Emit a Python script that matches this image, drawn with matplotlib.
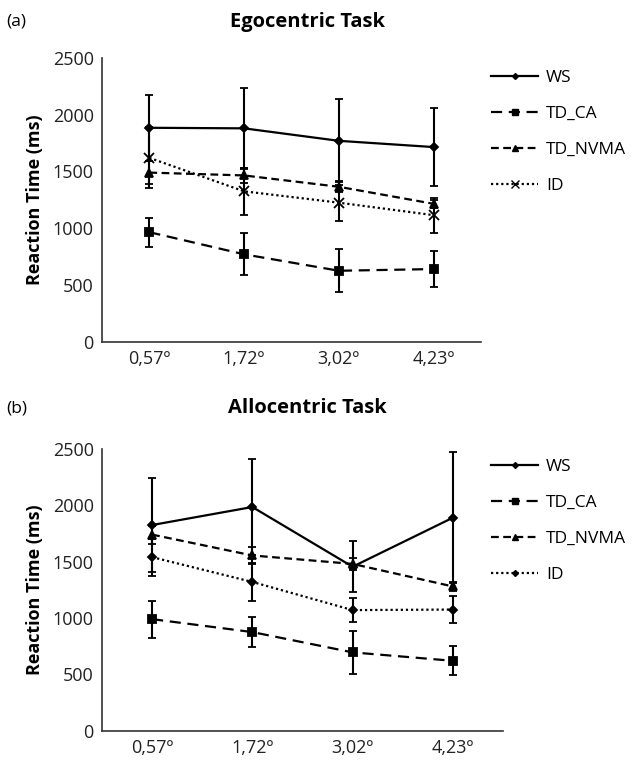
import matplotlib
matplotlib.use("Agg")
import matplotlib.pyplot as plt
from matplotlib.lines import Line2D

plt.rcParams['font.family'] = ['Open Sans', 'DejaVu Sans']

categories = ["0,57º", "1,72º", "3,02º", "4,23º"]
series = ["WS", "TD_CA", "TD_NVMA", "ID"]

# Panel (a) Egocentric
ego_ws = [1885, 1880, 1770, 1715]
ego_ws_err = [290, 355, 365, 340]
ego_ca = [965, 770, 625, 640]
ego_ca_err = [128, 185, 190, 155]
ego_nvma = [1490, 1465, 1365, 1215]
ego_nvma_err = [100, 65, 50, 35]
ego_id = [1620, 1325, 1225, 1115]
ego_id_err = [270, 205, 160, 155]

# Panel (b) Allocentric
allo_ws = [1825, 1985, 1455, 1890]
allo_ws_err = [420, 430, 225, 580]
allo_ca = [990, 875, 695, 620]
allo_ca_err = [165, 130, 190, 130]
allo_nvma = [1740, 1555, 1480, 1280]
allo_nvma_err = [80, 75, 50, 40]
allo_id = [1540, 1320, 1070, 1075]
allo_id_err = [165, 165, 105, 120]

styles = {
    "WS": dict(linestyle='-', marker='D', markersize=4),
    "TD_CA": dict(linestyle=(0, (5, 3)), marker='s', markersize=6),
    "TD_NVMA": dict(linestyle=(0, (3.5, 2)), marker='^', markersize=6),
    "ID": dict(linestyle=(0, (1, 1.3)), marker='x', markersize=7),
}

fig = plt.figure(figsize=(6.33, 7.62), dpi=100)

def panel(rect, data, id_marker, title, tag, tag_y, legend_y):
    ax = fig.add_axes(rect)
    x = list(range(len(categories)))
    handles = []
    for name, (vals, errs) in zip(series, data):
        st = dict(styles[name])
        if name == "ID":
            st['marker'] = id_marker
            if id_marker == 'D':
                st['markersize'] = 4
        ax.errorbar(x, vals, yerr=errs, color='black', linewidth=1.6,
                    elinewidth=1.5, capsize=3, capthick=1.5,
                    markeredgewidth=1.3, label=name, **st)
        hs = dict(st)
        hs['markersize'] = st['markersize'] * 0.75
        handles.append(Line2D([], [], color='black', linewidth=1.6,
                              markeredgewidth=1.0, **hs))
    ax.set_xlim(-0.5, len(categories) - 0.5)
    ax.set_ylim(0, 2500)
    ax.set_yticks([0, 500, 1000, 1500, 2000, 2500])
    ax.set_xticks(x)
    ax.set_xticklabels(categories)
    ax.tick_params(axis='both', labelsize=13, length=0, pad=6, colors='#222222')
    ax.spines['top'].set_visible(False)
    ax.spines['right'].set_visible(False)
    ax.spines['left'].set_linewidth(1.2)
    ax.spines['bottom'].set_linewidth(1.2)
    ax.spines['left'].set_color('#333333')
    ax.spines['bottom'].set_color('#333333')
    ax.set_ylabel("Reaction Time (ms)", fontsize=13, fontweight='bold', labelpad=6)
    fig.text(0.485, tag_y, title, fontsize=14.5, fontweight='bold', ha='center', va='center')
    fig.text(0.01, tag_y, tag, fontsize=12.5, ha='left', va='center')
    fig.legend(handles=handles, labels=series, loc='upper left',
               bbox_to_anchor=(0.765, legend_y), frameon=False, fontsize=12.5,
               handlelength=2.7, handletextpad=0.45, labelspacing=1.15,
               borderaxespad=0)
    return ax

panel([0.1611, 0.5516, 0.5987, 0.3723],
      [(ego_ws, ego_ws_err), (ego_ca, ego_ca_err), (ego_nvma, ego_nvma_err), (ego_id, ego_id_err)],
      'x', "Egocentric Task", "(a)", 1 - 22 / 762, 1 - 63 / 762)
panel([0.1611, 0.0411, 0.6335, 0.3697],
      [(allo_ws, allo_ws_err), (allo_ca, allo_ca_err), (allo_nvma, allo_nvma_err), (allo_id, allo_id_err)],
      'D', "Allocentric Task", "(b)", 1 - 408 / 762, 1 - 452 / 762)

fig.savefig("out.png", dpi=100)
